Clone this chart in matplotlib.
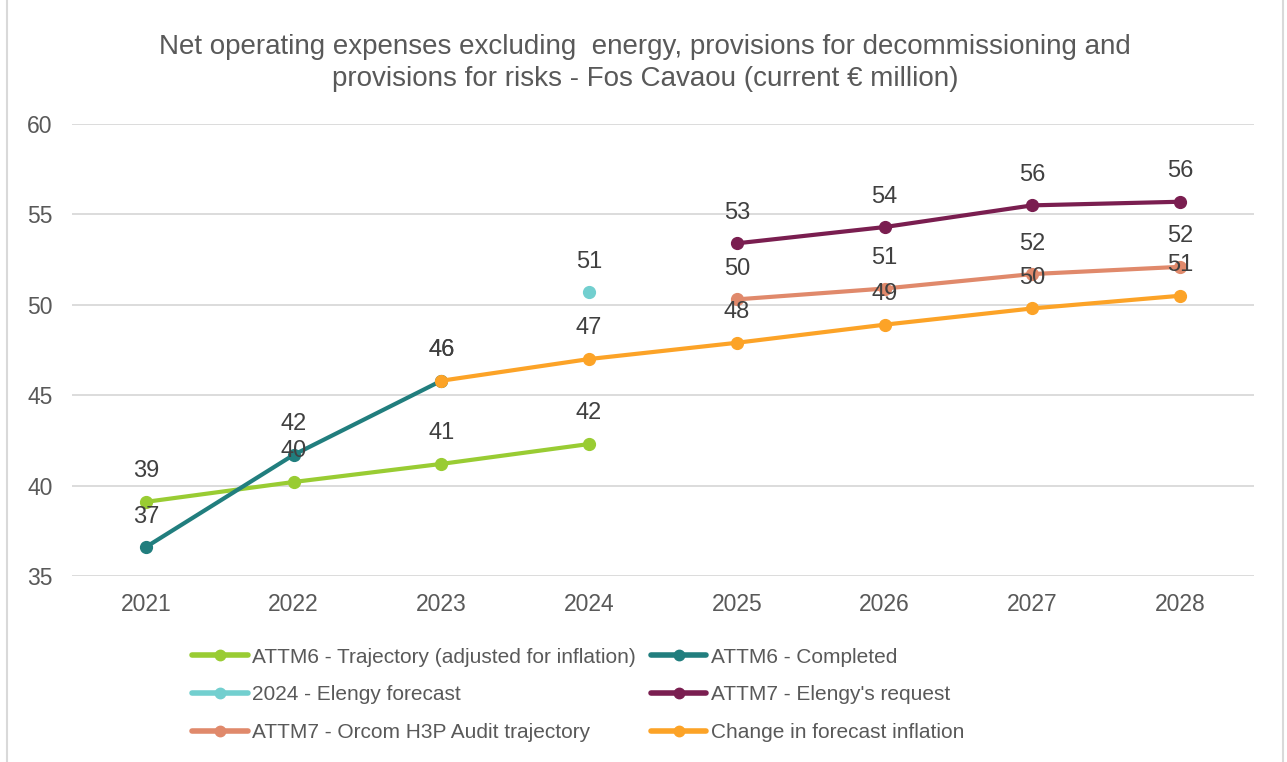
import matplotlib.pyplot as plt
from matplotlib.lines import Line2D

plt.rcParams['font.family'] = ['Liberation Sans', 'DejaVu Sans']

# ---------------------------------------------------------------------------
# Data (current EUR million)
# ---------------------------------------------------------------------------
years = [2021, 2022, 2023, 2024, 2025, 2026, 2027, 2028]

traj_years = [2021, 2022, 2023, 2024]
traj_vals = [39.1, 40.2, 41.2, 42.3]

done_years = [2021, 2022, 2023]
done_vals = [36.6, 41.7, 45.8]

fcst_years = [2024]
fcst_vals = [50.7]

req_years = [2025, 2026, 2027, 2028]
req_vals = [53.4, 54.3, 55.5, 55.7]

audit_years = [2025, 2026, 2027, 2028]
audit_vals = [50.3, 50.9, 51.7, 52.1]

infl_years = [2023, 2024, 2025, 2026, 2027, 2028]
infl_vals = [45.8, 47.0, 47.9, 48.9, 49.8, 50.5]

series = [
    ("ATTM6 - Trajectory (adjusted for inflation)", traj_years, traj_vals, "#99CC33"),
    ("ATTM6 - Completed", done_years, done_vals, "#217E7E"),
    ("2024 - Elengy forecast", fcst_years, fcst_vals, "#72CFCF"),
    ("ATTM7 - Elengy's request", req_years, req_vals, "#7A1E50"),
    ("ATTM7 - Orcom H3P Audit trajectory", audit_years, audit_vals, "#E0896B"),
    ("Change in forecast inflation", infl_years, infl_vals, "#FCA327"),
]

title = ("Net operating expenses excluding  energy, provisions for decommissioning and\n"
         "provisions for risks - Fos Cavaou (current \u20ac million)")

# ---------------------------------------------------------------------------
# Plot
# ---------------------------------------------------------------------------
W, H = 1287, 762
fig = plt.figure(figsize=(W / 100, H / 100), dpi=100)
ax = fig.add_axes([72 / W, 1 - 576 / H, (1254 - 72) / W, (576 - 124) / H])

TXT = "#404040"
GRID = "#D9D9D9"

for name, xs, ys, col in series:
    ax.plot(xs, ys, color=col, lw=3.0, marker="o", markersize=8.5,
            solid_capstyle="round", label=name, zorder=3)
    for x, y in zip(xs, ys):
        # excel-style rounding (50.5 -> 51)
        ax.annotate(str(int(y + 0.5)), (x, y),
                    xytext=(0, 22), textcoords="offset points",
                    ha="center", va="center", fontsize=17, color=TXT, zorder=4)

ax.set_xlim(2020.5, 2028.5)
ax.set_ylim(35, 60)
ax.set_xticks(years)
ax.set_yticks([35, 40, 45, 50, 55, 60])
ax.grid(axis="y", color=GRID, lw=1.3)
ax.set_axisbelow(True)
for s in ax.spines.values():
    s.set_visible(False)
ax.tick_params(length=0, labelsize=16.5, labelcolor="#595959")
ax.tick_params(axis="y", pad=14)
ax.tick_params(axis="x", pad=12)

fig.text(645 / W, 1 - 62.5 / H, title, ha="center", va="center",
         fontsize=20, color="#595959", linespacing=1.3)

# legend laid out row by row (matplotlib fills columns first)
order = [0, 2, 4, 1, 3, 5]
leg_handles = [Line2D([], [], color=series[i][3], lw=4, marker="o", markersize=7.5,
                      solid_capstyle="round") for i in order]
leg = fig.legend(leg_handles, [series[i][0] for i in order], ncol=2,
                 loc="center left", bbox_to_anchor=(182 / W, 1 - 695 / H),
                 frameon=False, fontsize=15, handlelength=2.65, handletextpad=0.2,
                 columnspacing=0.75, labelspacing=0.9, borderpad=0)
for t in leg.get_texts():
    t.set_color("#595959")

# outer chart border (left / right edges visible)
for xb in (7, 1283):
    fig.add_artist(Line2D([xb / W, xb / W], [0, 1], transform=fig.transFigure,
                          color=GRID, lw=1.5))

fig.savefig("out.png", dpi=100)
